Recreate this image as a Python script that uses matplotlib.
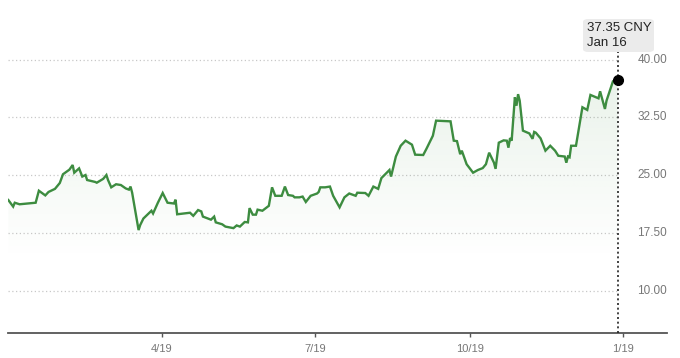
import numpy as np
import matplotlib
matplotlib.use("Agg")
import matplotlib.pyplot as plt
from matplotlib.patches import FancyBboxPatch

plt.rcParams['font.family'] = ['Liberation Sans', 'DejaVu Sans']

# ---- data (days since 2019-01-02, price in CNY) ----
days = [0, 3, 4, 7, 17, 19, 23, 25, 29, 32, 34, 38, 40, 41, 44, 46, 48, 49, 54, 55,
        59, 61, 62, 64, 67, 70, 73, 75, 76, 77, 81, 82, 84, 89, 90, 93, 96, 99, 103, 104,
        105, 113, 115, 118, 120, 121, 126, 128, 129, 133, 135, 140, 142, 144, 147, 149, 150, 152, 154, 155,
        158, 162, 164, 166, 170, 172, 174, 177, 178, 181, 183, 185, 188, 192, 193, 194, 197, 200, 202, 206,
        209, 212, 216, 217, 222, 224, 227, 230, 232, 237, 238, 241, 244, 247, 251, 253, 258, 260, 264, 266,
        275, 277, 279, 281, 282, 285, 289, 292, 295, 297, 299, 302, 303, 305, 308, 310, 311, 312, 313, 315,
        316, 317, 318, 320, 324, 326, 327, 328, 331, 334, 337, 340, 342, 346, 347, 348, 349, 350, 353, 357,
        360, 362, 367, 368, 371, 372, 376, 379]
prices = [21.75, 20.90, 21.40, 21.20, 21.40, 22.96, 22.35, 22.80, 23.20, 23.96, 25.10, 25.70, 26.30, 25.30, 25.86, 24.80, 25.00, 24.35, 24.10, 24.00,
          24.50, 25.00, 24.35, 23.40, 23.80, 23.70, 23.26, 23.10, 23.50, 22.70, 17.85, 18.50, 19.35, 20.36, 20.00, 21.40, 22.66, 21.40, 21.30, 21.80,
          19.90, 20.10, 19.70, 20.45, 20.27, 19.60, 19.20, 19.60, 18.85, 18.60, 18.30, 18.10, 18.45, 18.30, 18.90, 18.85, 20.70, 19.85, 19.85, 20.50,
          20.36, 21.00, 23.40, 22.30, 22.30, 23.50, 22.40, 22.30, 22.10, 22.10, 22.20, 21.50, 22.30, 22.60, 22.80, 23.40, 23.40, 23.50, 22.30, 20.80,
          22.10, 22.60, 22.30, 22.70, 22.66, 22.30, 23.50, 23.20, 24.60, 25.65, 24.80, 27.40, 28.80, 29.46, 28.94, 27.64, 27.60, 28.40, 30.10, 32.06,
          31.97, 29.46, 29.40, 27.70, 28.16, 26.40, 25.30, 25.65, 25.90, 26.40, 27.90, 26.60, 25.80, 29.20, 29.50, 29.46, 28.55, 29.80, 29.46, 35.10,
          34.00, 35.50, 34.66, 30.76, 30.40, 29.70, 30.60, 30.50, 29.76, 28.16, 28.80, 28.16, 27.50, 27.40, 26.60, 27.40, 27.30, 28.80, 28.80, 33.80,
          33.45, 35.40, 34.96, 35.87, 33.58, 34.66, 37.17, 37.35]
ytick_vals = [10.00, 17.50, 25.00, 32.50, 40.00]
xtick_days = [95.6, 190.7, 287.1, 382.3]
xtick_labels = ["4/19", "7/19", "10/19", "1/19"]
currency = "CNY"
last_label = "Jan 16"

# ---- figure ----
W, H = 680, 358
fig = plt.figure(figsize=(W / 100, H / 100), dpi=100)
ax_bottom_px = 332.7
ax = fig.add_axes([8 / W, (H - ax_bottom_px) / H, 659 / W, ax_bottom_px / H])

x = np.array(days, dtype=float)
y = np.array(prices)
xmin, xmax = -0.2, 409.6
ymin, ymax = 4.52, 47.73
ax.set_xlim(xmin, xmax)
ax.set_ylim(ymin, ymax)

green = (61 / 255, 140 / 255, 64 / 255)

# gradient fill under the line
fill_bottom = 14.0
grad = np.zeros((200, 2, 4))
grad[..., 0] = green[0]
grad[..., 1] = green[1]
grad[..., 2] = green[2]
alpha = np.linspace(0.0, 0.11, 200)[:, None]
grad[..., 3] = alpha
poly = ax.fill_between(x, y, fill_bottom, color='none', lw=0)
im = ax.imshow(grad, extent=[x[0], x[-1], fill_bottom, 38], origin='lower',
               aspect='auto', zorder=1, interpolation='bilinear')
path = poly.get_paths()[0]
im.set_clip_path(path, transform=ax.transData)

# grid lines
ax.hlines(ytick_vals, x[0], x[-1], colors='#c8c8c8', linestyles=(0, (1, 2)), lw=0.9, zorder=0.5)

# price line
ax.plot(x, y, color=green, lw=1.7, zorder=3, solid_joinstyle='miter')

# crosshair
top_frac = 1 - 52 / ax_bottom_px
ax.axvline(x[-1], ymin=0, ymax=top_frac, color='#222222', lw=1.2,
           linestyle=(0, (1.2, 1.6)), zorder=4)
ax.plot([x[-1]], [y[-1]], 'o', color='black', ms=7, zorder=5)

# y labels on the right
for v in ytick_vals:
    ax.text(1.0, v, f"{v:.2f}", transform=ax.get_yaxis_transform(),
            ha='right', va='center', fontsize=8.5, color='#777777')

# spines
for s in ['top', 'right', 'left']:
    ax.spines[s].set_visible(False)
ax.spines['bottom'].set_color('#555555')
ax.spines['bottom'].set_linewidth(1.3)
ax.set_yticks([])
ax.set_xticks(xtick_days)
ax.set_xticklabels(xtick_labels)
ax.tick_params(axis='x', length=3, width=1, color='#555555', labelsize=8,
               labelcolor='#777777', pad=5)
ax.patch.set_alpha(0)

# tooltip
bx0, by0, bx1, by1 = 583, 19, 654, 52
box = FancyBboxPatch((bx0 / W, (H - by1) / H), (bx1 - bx0) / W, (by1 - by0) / H,
                     boxstyle="round,pad=0,rounding_size=0.008",
                     transform=fig.transFigure, facecolor='#ebebeb', edgecolor='none', zorder=10)
fig.patches.append(box)
fig.text(587 / W, (H - 28) / H, f"{prices[-1]:.2f} {currency}", fontsize=9.5,
         color='#222222', ha='left', va='center', zorder=11)
fig.text(587 / W, (H - 43.5) / H, last_label, fontsize=9.5,
         color='#222222', ha='left', va='center', zorder=11)

fig.savefig("out.png", dpi=100)
